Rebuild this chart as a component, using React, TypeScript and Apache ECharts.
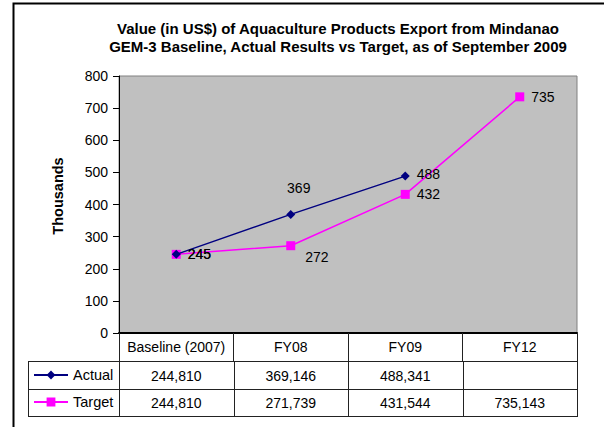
import React, { useEffect, useRef } from "react";
import * as echarts from "echarts";

const categories = ["Baseline (2007)", "FY08", "FY09", "FY12"];
const actualValues: (number | null)[] = [244810, 369146, 488341, null];
const targetValues: (number | null)[] = [244810, 271739, 431544, 735143];
const seriesNames = ["Actual", "Target"];
const yTicks = { min: 0, max: 800, interval: 100 };
const titleLines = [
  "Value (in US$) of Aquaculture Products Export from Mindanao",
  "GEM-3 Baseline, Actual Results vs Target, as of September 2009",
];
const yAxisName = "Thousands";

const FONT = "'Liberation Sans', Arial, sans-serif";
const FS = 14;
const GRID = { left: 119, top: 76, width: 458, height: 257 };
const ROW_H = [28, 28, 27];
const TABLE_LEFT = 28;
const LINE_COLOR = "#222";

// label placement (style only)
const actualLabelStyle = [
  { position: "right", distance: 7 },
  { position: "top", offset: [8, -10] },
  { position: "right", distance: 7, offset: [0, -2] },
  { position: "right", distance: 7 },
];
const targetLabelStyle = [
  { position: "right", distance: 7 },
  { position: "right", distance: 10, offset: [0, 11] },
  { position: "right", distance: 7 },
  { position: "right", distance: 7 },
];

const fmt = (v: number | null) => (v == null ? "" : v.toLocaleString("en-US"));

export default function App() {
  const ref = useRef<HTMLDivElement>(null);
  useEffect(() => {
    if (!ref.current) return;
    const chart = echarts.init(ref.current, null, { renderer: "svg" });

    const toPoints = (vals: (number | null)[], styles: any[]) =>
      vals.map((v, i) => ({
        value: v == null ? null : v / 1000,
        label: { ...styles[i] },
      }));

    const colW = GRID.width / categories.length;
    const bottom = GRID.top + GRID.height;
    const r1 = bottom + ROW_H[0];
    const r2 = r1 + ROW_H[1];
    const r3 = r2 + ROW_H[2];
    const right = GRID.left + GRID.width;
    const graphics: any[] = [];
    const hline = (y: number, x1: number, x2: number) =>
      graphics.push({
        type: "line",
        silent: true,
        shape: { x1, y1: y + 0.5, x2, y2: y + 0.5 },
        style: { stroke: LINE_COLOR, lineWidth: 1 },
      });
    const vline = (x: number, y1: number, y2: number) =>
      graphics.push({
        type: "line",
        silent: true,
        shape: { x1: x + 0.5, y1, x2: x + 0.5, y2 },
        style: { stroke: LINE_COLOR, lineWidth: 1 },
      });
    hline(r1, TABLE_LEFT, right + 1);
    hline(r2, TABLE_LEFT, right + 1);
    hline(r3, TABLE_LEFT, right + 1);
    vline(TABLE_LEFT, r1, r3 + 1);
    vline(GRID.left, bottom, r3 + 1);
    for (let i = 1; i <= categories.length; i++) {
      vline(Math.round(GRID.left + i * colW), r1, r3 + 1);
    }
    const rows = [actualValues, targetValues];
    rows.forEach((vals, ri) => {
      const yc = ri === 0 ? (r1 + r2) / 2 : (r2 + r3) / 2;
      vals.forEach((v, ci) => {
        graphics.push({
          type: "text",
          silent: true,
          x: GRID.left + (ci + 0.5) * colW,
          y: yc + 0.5,
          style: {
            text: fmt(v),
            align: "center",
            verticalAlign: "middle",
            fontSize: FS,
            fontFamily: FONT,
            fill: "#000",
          },
        });
      });
    });
    // outer frame
    graphics.push({
      type: "rect",
      silent: true,
      shape: { x: 13.5, y: 3.5, width: 700, height: 600 },
      style: { fill: "none", stroke: "#000", lineWidth: 2 },
    });

    chart.setOption({
      animation: false,
      backgroundColor: "#fff",
      title: {
        text: titleLines.join("\n"),
        left: 333,
        top: 14,
        textAlign: "center",
        textStyle: {
          fontSize: 15,
          fontWeight: "bold",
          fontFamily: FONT,
          color: "#000",
          lineHeight: 18,
        },
      },
      grid: {
        ...GRID,
        show: true,
        backgroundColor: "#C0C0C0",
        borderColor: "#808080",
        borderWidth: 1,
      },
      legend: {
        orient: "vertical",
        left: 33,
        top: 367,
        padding: 0,
        itemWidth: 34,
        itemHeight: 11,
        itemGap: 11,
        data: seriesNames,
        textStyle: { fontSize: 14.5, fontFamily: FONT, color: "#000", lineHeight: 16 },
      },
      xAxis: {
        type: "category",
        data: categories,
        boundaryGap: true,
        axisLine: { lineStyle: { color: "#000", width: 2 } },
        axisTick: { show: true, inside: false, length: ROW_H[0], lineStyle: { color: LINE_COLOR, width: 1 } },
        axisLabel: { interval: 0, margin: 7, fontSize: FS, fontFamily: FONT, color: "#000" },
        splitLine: { show: false },
      },
      yAxis: {
        type: "value",
        min: yTicks.min,
        max: yTicks.max,
        interval: yTicks.interval,
        name: yAxisName,
        nameLocation: "middle",
        nameGap: 54,
        nameTextStyle: {
          fontSize: 14.5,
          fontWeight: "bold",
          fontFamily: FONT,
          color: "#000",
          padding: [0, 0, 0, 17],
        },
        axisLine: { show: true, lineStyle: { color: "#000", width: 1 } },
        axisTick: { show: true, inside: false, length: 6, lineStyle: { color: "#000" } },
        axisLabel: { margin: 11, fontSize: FS, fontFamily: FONT, color: "#000" },
        splitLine: { show: false },
      },
      series: [
        {
          name: seriesNames[0],
          type: "line",
          data: toPoints(actualValues, actualLabelStyle),
          symbol: "diamond",
          symbolSize: 9,
          color: "#000080",
          lineStyle: { color: "#000080", width: 1.5 },
          itemStyle: { color: "#000080" },
          label: { show: true, fontSize: FS, fontFamily: FONT, color: "#000", formatter: (p: any) => Math.round(p.value) },
          z: 3,
        },
        {
          name: seriesNames[1],
          type: "line",
          data: toPoints(targetValues, targetLabelStyle),
          symbol: "rect",
          symbolSize: 9,
          color: "#FF00FF",
          lineStyle: { color: "#FF00FF", width: 1.5 },
          itemStyle: { color: "#FF00FF" },
          label: { show: true, fontSize: FS, fontFamily: FONT, color: "#000", formatter: (p: any) => Math.round(p.value) },
          z: 2,
        },
      ],
      graphic: graphics,
    });
    return () => chart.dispose();
  }, []);
  return (
    <div
      ref={ref}
      style={{ position: "fixed", left: 0, top: 0, width: 604, height: 427 }}
    />
  );
}
